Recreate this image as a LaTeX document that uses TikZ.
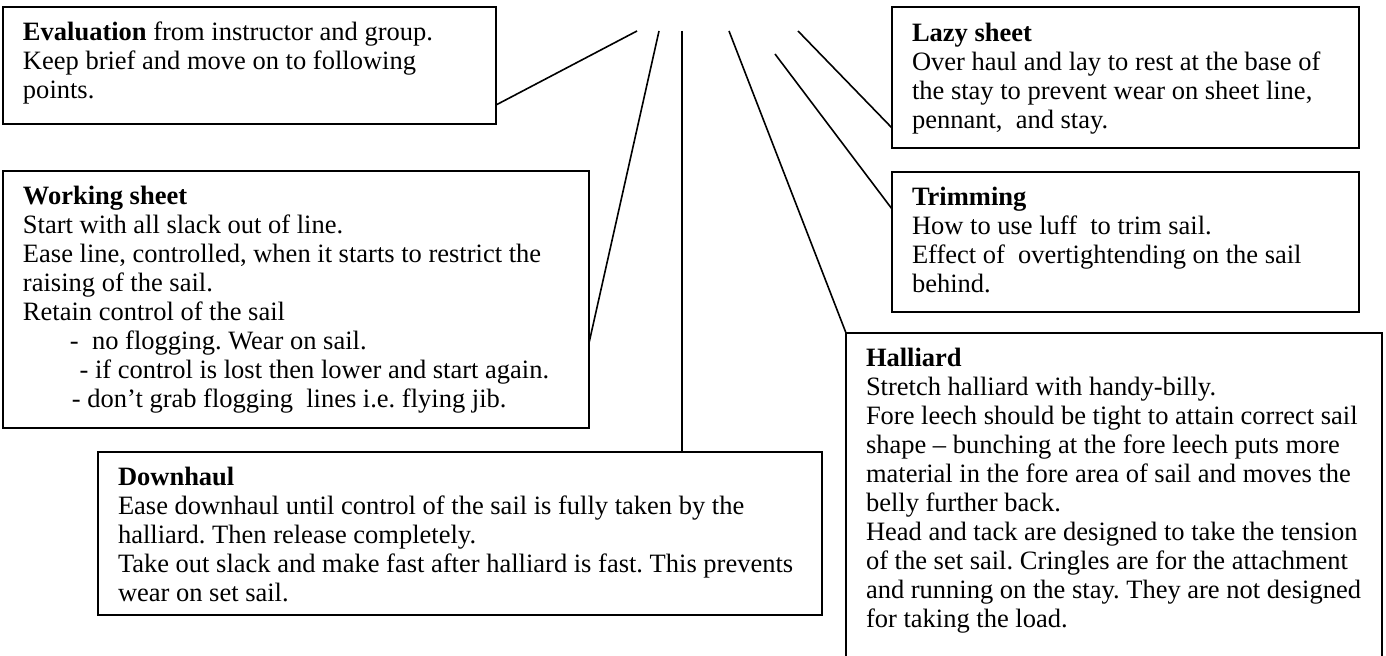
\documentclass[tikz,border=0pt]{standalone}
\usepackage{fontspec}
\setmainfont{Liberation Serif}
\usetikzlibrary{fit,calc}
\tikzset{
  box/.style={draw=black, line width=1.1pt, inner sep=0pt, outer sep=0pt},
  txt/.style={anchor=north west, inner sep=0pt, outer sep=0pt, align=left,
    font=\fontsize{13.25}{14.5}\selectfont\frenchspacing},
  link/.style={draw=black, line width=0.8pt}
}
\newcommand{\ind}[1]{\hspace*{#1}}
\frenchspacing
\begin{document}
\begin{tikzpicture}[x=0.5pt, y=-0.5pt]
\useasboundingbox (0,0) rectangle (1386,656);
% boxes
\node[box, fit={(3,7) (496,124)}] (eval) {};
\node[box, fit={(3,171) (589,428)}] (ws) {};
\node[box, fit={(98,452) (822,615)}] (down) {};
\node[box, fit={(892,7) (1359,148)}] (lazy) {};
\node[box, fit={(892,172) (1359,312)}] (trim) {};
\node[box, fit={(846,333) (1382,720)}] (hall) {};
% texts (first baseline = top + 20.3px)
\node[txt] (evalt) at (23,20.7) {\strut\textbf{Evaluation} from instructor and group.\\
Keep brief and move on to following\\
points.};
\node[txt] (wst) at (23,184.7) {\strut\textbf{Working sheet}\\
Start with all slack out of line.\\
Ease line, controlled, when it starts to restrict the\\
raising of the sail.\\
Retain control of the sail\\
\ind{23.5pt}-\ \ no flogging. Wear on sail.\\
\ind{25pt}\ - if control is lost then lower and start again.\\
\ind{24.5pt}- don’t grab flogging\ \ lines i.e. flying jib.};
\node[txt] (downt) at (118,465.7) {\strut\textbf{Downhaul}\\
Ease downhaul until control of the sail is fully taken by the\\
halliard. Then release completely.\\
Take out slack and make fast after halliard is fast. This prevents\\
wear on set sail.};
\node[txt] (lazyt) at (912,21.7) {\strut\textbf{Lazy sheet}\\
Over haul and lay to rest at the base of\\
the stay to prevent wear on sheet line,\\
pennant,\ \ and stay.};
\node[txt] (trimt) at (912,185.7) {\strut\textbf{Trimming}\\
How to use luff\ \ to trim sail.\\
Effect of\ \ overtightending on the sail\\
behind.};
\node[txt] (hallt) at (866,346.7) {\strut\textbf{Halliard}\\
Stretch halliard with handy-billy.\\
Fore leech should be tight to attain correct sail\\
shape – bunching at the fore leech puts more\\
material in the fore area of sail and moves the\\
belly further back.\\
Head and tack are designed to take the tension\\
of the set sail. Cringles are for the attachment\\
and running on the stay. They are not designed\\
for taking the load.};
% free ends of connectors
\coordinate (t1) at (637,31);
\coordinate (t2) at (659,31);
\coordinate (t3) at (682,31);
\coordinate (t4) at (729,31);
\coordinate (t5) at (775,54);
\coordinate (t6) at (798,31);
% connectors
\draw[link] ($(eval.south east)+(0,-19)$) -- (t1);
\draw[link] ($(ws.north east)+(0,172)$) -- (t2);
\draw[link] (t3) -- (t3 |- down.north);
\draw[link] (hall.north west) -- (t4);
\draw[link] ($(trim.north west)+(0,37)$) -- (t5);
\draw[link] ($(lazy.north west)+(0,121)$) -- (t6);
\end{tikzpicture}
\end{document}
